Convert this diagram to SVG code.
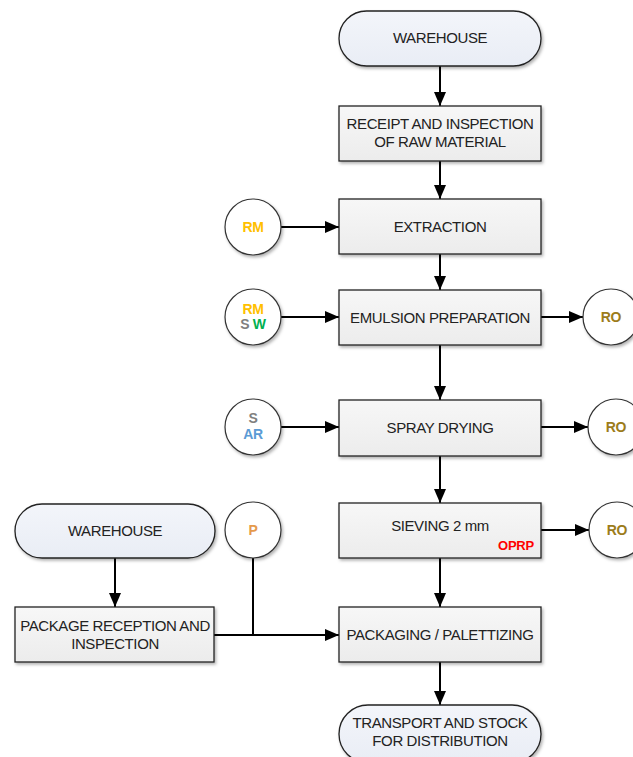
<svg xmlns="http://www.w3.org/2000/svg" width="633" height="757" viewBox="0 0 633 757">
<defs>
<linearGradient id="boxg" x1="0" y1="0" x2="0" y2="1"><stop offset="0" stop-color="#f7f7f7"/><stop offset="1" stop-color="#ececec"/></linearGradient>
<linearGradient id="termg" x1="0" y1="0" x2="0" y2="1"><stop offset="0" stop-color="#f3f5fa"/><stop offset="1" stop-color="#e9edf5"/></linearGradient>
<filter id="sh" x="-10%" y="-10%" width="130%" height="140%"><feDropShadow dx="1.5" dy="2" stdDeviation="1.5" flood-color="#000" flood-opacity="0.3"/></filter>
<marker id="arr" viewBox="0 0 14 12" refX="14" refY="6" markerWidth="14" markerHeight="12" markerUnits="userSpaceOnUse" orient="auto"><path d="M0,0 L14,6 L0,12 z" fill="#000"/></marker>
</defs>
<style>
.box{fill:url(#boxg);stroke:#222;stroke-width:1.3;filter:url(#sh)}
.term{fill:url(#termg);stroke:#222;stroke-width:1.3;filter:url(#sh)}
.circ{fill:#fff;stroke:#333;stroke-width:1.2;filter:url(#sh)}
.t{font-family:"Liberation Sans",Arial,sans-serif;font-size:15px;letter-spacing:-0.4px;fill:#222;text-anchor:middle}
.c{font-family:"Liberation Sans",Arial,sans-serif;font-size:14px;letter-spacing:-0.3px;font-weight:bold;text-anchor:middle}
.o{font-family:"Liberation Sans",Arial,sans-serif;font-size:13px;letter-spacing:-0.2px;font-weight:bold;text-anchor:middle;fill:#ff0000}
.ln{stroke:#000;stroke-width:2;fill:none}
.a{marker-end:url(#arr)}
</style>
<rect width="633" height="757" fill="#fff"/>
<g id="connectors">
<line class="ln a" x1="440" y1="66" x2="440" y2="106"/>
<line class="ln a" x1="440" y1="161" x2="440" y2="199"/>
<line class="ln a" x1="440" y1="254" x2="440" y2="290"/>
<line class="ln a" x1="440" y1="345" x2="440" y2="400"/>
<line class="ln a" x1="440" y1="456" x2="440" y2="503"/>
<line class="ln a" x1="440" y1="558" x2="440" y2="607"/>
<line class="ln a" x1="440" y1="662" x2="440" y2="705"/>
<line class="ln a" x1="281" y1="227" x2="339" y2="227"/>
<line class="ln a" x1="281" y1="317" x2="339" y2="317"/>
<line class="ln a" x1="281" y1="427" x2="339" y2="427"/>
<line class="ln a" x1="541" y1="317" x2="583" y2="317"/>
<line class="ln a" x1="541" y1="427" x2="588" y2="427"/>
<line class="ln a" x1="541" y1="530" x2="589" y2="530"/>
<line class="ln a" x1="115" y1="558" x2="115" y2="607"/>
<line class="ln" x1="253" y1="558" x2="253" y2="635"/>
<line class="ln a" x1="214" y1="635" x2="339" y2="635"/>
</g>
<g id="warehouse1"><rect class="term" x="339" y="11" width="202" height="55" rx="27.5"/><text class="t" x="440" y="43">WAREHOUSE</text></g>
<g id="receipt"><rect class="box" x="339" y="106" width="202" height="55"/><text class="t" x="440" y="129">RECEIPT AND INSPECTION</text><text class="t" x="440" y="147">OF RAW MATERIAL</text></g>
<g id="extraction"><rect class="box" x="339" y="199" width="202" height="55"/><text class="t" x="440" y="232">EXTRACTION</text></g>
<g id="emulsion"><rect class="box" x="339" y="290" width="202" height="55"/><text class="t" x="440" y="323">EMULSION PREPARATION</text></g>
<g id="spray"><rect class="box" x="339" y="400" width="202" height="56"/><text class="t" x="440" y="433">SPRAY DRYING</text></g>
<g id="sieving"><rect class="box" x="339" y="503" width="202" height="55"/><text class="t" x="440" y="531">SIEVING 2 mm</text><text class="o" x="516" y="550">OPRP</text></g>
<g id="packaging"><rect class="box" x="339" y="607" width="202" height="55"/><text class="t" x="440" y="640">PACKAGING / PALETTIZING</text></g>
<g id="transport"><rect class="term" x="339" y="705" width="202" height="58" rx="29"/><text class="t" x="440" y="728">TRANSPORT AND STOCK</text><text class="t" x="440" y="746">FOR DISTRIBUTION</text></g>
<g id="warehouse2"><rect class="term" x="15" y="504" width="200" height="54" rx="27"/><text class="t" x="115" y="536">WAREHOUSE</text></g>
<g id="package-reception"><rect class="box" x="15" y="607" width="199" height="55"/><text class="t" x="115" y="631">PACKAGE RECEPTION AND</text><text class="t" x="115" y="649">INSPECTION</text></g>
<g id="c-rm"><circle class="circ" cx="253" cy="227" r="28"/><text class="c" x="253" y="232" fill="#ffc000">RM</text></g>
<g id="c-rmsw"><circle class="circ" cx="253" cy="317" r="28"/><text class="c" x="253" y="314" fill="#ffc000">RM</text><text class="c" x="253" y="329"><tspan fill="#7f7f7f">S</tspan><tspan fill="#00b050"> W</tspan></text></g>
<g id="c-sar"><circle class="circ" cx="253" cy="427" r="28"/><text class="c" x="253" y="423" fill="#7f7f7f">S</text><text class="c" x="253" y="439" fill="#5b9bd5">AR</text></g>
<g id="c-p"><circle class="circ" cx="253" cy="530" r="28"/><text class="c" x="253" y="535" fill="#e59a4c">P</text></g>
<g id="c-ro1"><circle class="circ" cx="611" cy="317" r="28"/><text class="c" x="611" y="322" fill="#9c7c1a">RO</text></g>
<g id="c-ro2"><circle class="circ" cx="616" cy="427" r="28"/><text class="c" x="616" y="432" fill="#9c7c1a">RO</text></g>
<g id="c-ro3"><circle class="circ" cx="617" cy="530" r="28"/><text class="c" x="617" y="535" fill="#9c7c1a">RO</text></g>
</svg>
